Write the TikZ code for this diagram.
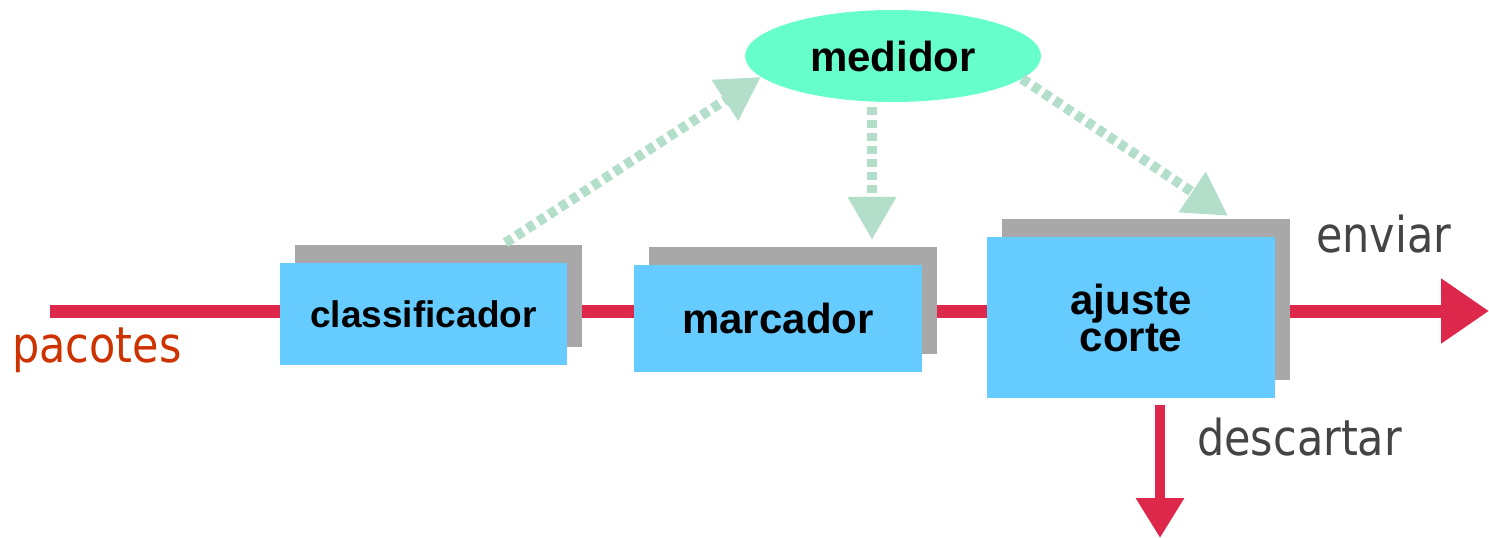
\documentclass[tikz,border=0pt]{standalone}
\usepackage{fontspec}
\setmainfont{Liberation Sans}
\newfontfamily\handfont{DejaVu Sans}
\usetikzlibrary{arrows.meta,shapes.geometric,shadows,backgrounds,calc}
\definecolor{flowred}{RGB}{221,40,75}
\definecolor{boxblue}{RGB}{102,204,255}
\definecolor{boxgray}{RGB}{168,168,168}
\definecolor{metergreen}{RGB}{102,255,204}
\definecolor{ctrlgreen}{RGB}{179,223,202}
\definecolor{labelgray}{RGB}{68,68,68}
\definecolor{inred}{RGB}{204,51,0}
\newcommand{\handtext}[1]{\scalebox{1}[1.15]{\handfont #1}}
\begin{document}
\begin{tikzpicture}[x=1pt,y=-1pt,
  stage/.style={rectangle, fill=boxblue, inner sep=0pt, align=center,
    font=\fontsize{42}{37}\selectfont\bfseries,
    copy shadow={shadow xshift=15pt, shadow yshift=18pt, fill=boxgray, draw=none}},
  meter/.style={ellipse, fill=metergreen, inner sep=0pt,
    minimum width=296pt, minimum height=92pt,
    font=\fontsize{42}{36}\selectfont\bfseries},
  flow/.style={draw=flowred, line width=13pt},
  flowout/.style={flow, -{Triangle[length=48pt,width=62pt]}},
  dropout/.style={draw=flowred, line width=9.5pt, -{Triangle[length=40pt,width=46pt]}},
  ctrl/.style={draw=ctrlgreen, line width=10pt, dash pattern=on 8pt off 5pt,
    -{Triangle[length=43pt,width=46pt]}},
  hand/.style={font=\fontsize{43}{43}\selectfont, anchor=base west, inner sep=0pt}
]
\useasboundingbox (0,0) rectangle (1489,538);

% processing stages
\node[stage, minimum width=287pt, minimum height=102pt,
  font=\fontsize{37}{37}\selectfont\bfseries] (cls) at (423.5,314) {classificador};
\node[stage, minimum width=288pt, minimum height=107pt] (mar) at (778,318.5) {marcador};
\node[stage, minimum width=288pt, minimum height=161pt] (aju) at (1131,317.5) {ajuste\\corte};
\node[meter] (med) at (893,56) {medidor};

% packet flow behind the stages
\coordinate (in) at (50,311);
\coordinate (out) at (1489,311);
\coordinate (drop) at (1160,538);
\begin{scope}[on background layer]
  \draw[flow] (in) -- (cls.west |- in);
  \draw[flow] (cls.east |- in) -- (mar.west |- in);
  \draw[flow] (mar.east |- in) -- (aju.west |- in);
  \draw[flowout] (aju.east |- in) -- (out);
\end{scope}
\draw[dropout] ($(aju.south)+(29,7)$) -- (drop);

% metering control paths
\draw[ctrl] ($(cls.north)+(82,-20)$) -- (med.189);
\draw[ctrl] ($(med.south)+(-21,5)$) -- ($(mar.north)+(94,-25)$);
\draw[ctrl] (med.-10) -- ($(aju.north)+(97,-21)$);

% labels
\node[hand, text=inred] (lin) at (12,362) {\handtext{pacotes}};
\node[hand, text=labelgray] (lout) at (1316,252) {\handtext{enviar}};
\node[hand, text=labelgray] (ldrop) at (1197,455) {\handtext{descartar}};
\end{tikzpicture}
\end{document}
